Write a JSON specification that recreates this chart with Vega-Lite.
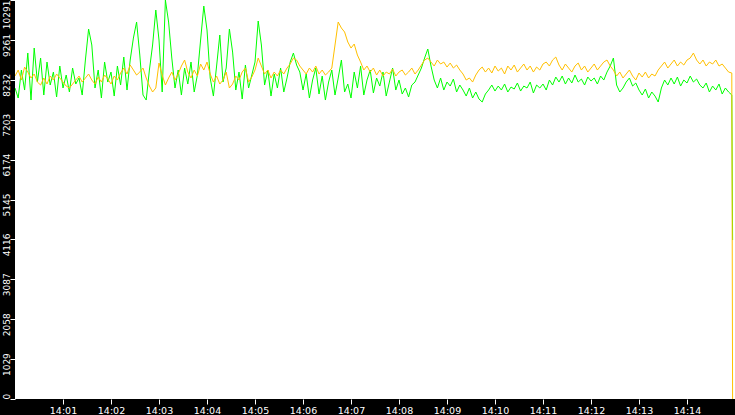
{
  "$schema": "https://vega.github.io/schema/vega-lite/v6.json",
  "width": 720,
  "height": 399,
  "autosize": {"type": "none"},
  "padding": {"left": 15, "top": 0, "right": 0, "bottom": 16},
  "background": "#000000",
  "config": {"view": {"fill": "#ffffff", "stroke": null}},
  "data": {"values": [
    {"s":0,"g":8021,"o":8330},{"s":4,"g":7763,"o":8485},{"s":8,"g":8485,"o":8227},{"s":12,"g":7969,"o":8562},
    {"s":16,"g":8923,"o":8433},{"s":20,"g":7711,"o":8279},{"s":24,"g":9052,"o":8382},{"s":28,"g":8175,"o":8175},
    {"s":32,"g":8794,"o":8098},{"s":36,"g":7840,"o":8279},{"s":40,"g":8691,"o":8124},{"s":44,"g":8098,"o":8330},
    {"s":48,"g":8433,"o":8227},{"s":52,"g":7789,"o":8382},{"s":56,"g":8588,"o":8279},{"s":60,"g":8021,"o":8175},
    {"s":64,"g":8356,"o":8072},{"s":68,"g":7918,"o":8021},{"s":72,"g":8536,"o":8124},{"s":76,"g":8124,"o":8227},
    {"s":80,"g":8279,"o":8330},{"s":84,"g":7840,"o":8175},{"s":88,"g":8743,"o":8279},{"s":92,"g":9542,"o":8382},
    {"s":96,"g":9130,"o":8227},{"s":100,"g":8021,"o":8124},{"s":104,"g":8485,"o":8304},{"s":108,"g":7763,"o":8175},
    {"s":112,"g":8691,"o":8356},{"s":116,"g":8175,"o":8253},{"s":120,"g":8433,"o":8124},{"s":124,"g":7814,"o":8330},
    {"s":128,"g":8588,"o":8227},{"s":132,"g":8098,"o":8408},{"s":136,"g":8820,"o":8536},{"s":140,"g":7969,"o":8382},
    {"s":144,"g":8743,"o":8614},{"s":148,"g":9310,"o":8485},{"s":152,"g":9723,"o":8356},{"s":156,"g":8872,"o":8433},
    {"s":160,"g":7840,"o":8536},{"s":164,"g":7711,"o":8279},{"s":168,"g":8485,"o":8072},{"s":172,"g":9130,"o":7918},
    {"s":176,"g":10032,"o":8021},{"s":180,"g":9259,"o":8665},{"s":184,"g":7918,"o":8356},{"s":188,"g":10290,"o":8098},
    {"s":192,"g":9723,"o":8279},{"s":196,"g":8794,"o":8433},{"s":200,"g":8021,"o":8227},{"s":204,"g":8485,"o":8382},
    {"s":208,"g":7840,"o":8588},{"s":212,"g":8536,"o":8743},{"s":216,"g":8124,"o":8433},{"s":220,"g":8691,"o":8279},
    {"s":224,"g":7918,"o":8485},{"s":228,"g":8356,"o":8330},{"s":232,"g":9259,"o":8640},{"s":236,"g":10135,"o":8485},
    {"s":240,"g":9517,"o":8691},{"s":244,"g":8279,"o":8382},{"s":248,"g":7814,"o":8175},{"s":252,"g":8588,"o":8330},
    {"s":256,"g":9388,"o":8124},{"s":260,"g":8175,"o":8227},{"s":264,"g":8536,"o":8433},{"s":268,"g":9542,"o":8021},
    {"s":272,"g":8949,"o":8124},{"s":276,"g":7969,"o":8330},{"s":280,"g":8433,"o":8227},{"s":284,"g":7737,"o":8433},
    {"s":288,"g":8614,"o":8536},{"s":292,"g":8021,"o":8175},{"s":296,"g":8356,"o":8304},{"s":300,"g":8691,"o":8485},
    {"s":304,"g":9749,"o":8794},{"s":308,"g":9130,"o":8588},{"s":312,"g":8098,"o":8382},{"s":316,"g":8485,"o":8485},
    {"s":320,"g":7814,"o":8279},{"s":324,"g":8382,"o":8433},{"s":328,"g":8021,"o":8330},{"s":332,"g":8536,"o":8485},
    {"s":336,"g":7918,"o":8382},{"s":340,"g":8279,"o":8536},{"s":344,"g":8691,"o":8640},{"s":348,"g":8923,"o":8794},
    {"s":352,"g":8614,"o":8743},{"s":356,"g":8433,"o":8588},{"s":360,"g":7969,"o":8485},{"s":364,"g":8382,"o":8382},
    {"s":368,"g":7763,"o":8536},{"s":372,"g":8227,"o":8433},{"s":376,"g":8536,"o":8588},{"s":380,"g":7866,"o":8382},
    {"s":384,"g":8330,"o":8485},{"s":388,"g":7711,"o":8356},{"s":392,"g":8175,"o":8433},{"s":396,"g":8485,"o":8536},
    {"s":400,"g":7840,"o":9130},{"s":404,"g":8279,"o":9723},{"s":408,"g":8743,"o":9568},{"s":412,"g":7918,"o":9465},
    {"s":416,"g":8124,"o":9207},{"s":420,"g":7763,"o":9052},{"s":424,"g":8433,"o":9155},{"s":428,"g":8021,"o":8872},
    {"s":432,"g":8588,"o":8691},{"s":436,"g":7840,"o":8485},{"s":440,"g":8227,"o":8588},{"s":444,"g":8485,"o":8433},
    {"s":448,"g":7892,"o":8536},{"s":452,"g":8279,"o":8356},{"s":456,"g":8072,"o":8485},{"s":460,"g":8433,"o":8330},
    {"s":464,"g":7814,"o":8433},{"s":468,"g":8175,"o":8382},{"s":472,"g":8536,"o":8511},{"s":476,"g":7969,"o":8330},
    {"s":480,"g":8227,"o":8433},{"s":484,"g":7866,"o":8485},{"s":488,"g":8021,"o":8356},{"s":492,"g":7789,"o":8433},
    {"s":496,"g":8098,"o":8536},{"s":500,"g":8175,"o":8382},{"s":504,"g":8356,"o":8485},{"s":508,"g":8536,"o":8614},
    {"s":512,"g":8794,"o":8743},{"s":516,"g":9027,"o":8794},{"s":520,"g":8588,"o":8691},{"s":524,"g":8227,"o":8588},
    {"s":528,"g":8021,"o":8743},{"s":532,"g":8279,"o":8640},{"s":536,"g":7969,"o":8691},{"s":540,"g":8175,"o":8562},
    {"s":544,"g":8072,"o":8665},{"s":548,"g":8253,"o":8536},{"s":552,"g":7918,"o":8614},{"s":556,"g":8098,"o":8485},
    {"s":560,"g":7969,"o":8382},{"s":564,"g":7814,"o":8227},{"s":568,"g":8021,"o":8279},{"s":572,"g":7763,"o":8175},
    {"s":576,"g":7918,"o":8356},{"s":580,"g":7737,"o":8485},{"s":584,"g":7660,"o":8562},{"s":588,"g":7866,"o":8433},
    {"s":592,"g":7969,"o":8536},{"s":596,"g":8098,"o":8408},{"s":600,"g":7943,"o":8588},{"s":604,"g":8072,"o":8459},
    {"s":608,"g":7969,"o":8536},{"s":612,"g":8124,"o":8382},{"s":616,"g":7918,"o":8588},{"s":620,"g":8046,"o":8485},
    {"s":624,"g":7995,"o":8614},{"s":628,"g":8150,"o":8433},{"s":632,"g":7943,"o":8536},{"s":636,"g":8072,"o":8640},
    {"s":640,"g":8021,"o":8485},{"s":644,"g":8175,"o":8588},{"s":648,"g":7892,"o":8433},{"s":652,"g":8098,"o":8562},
    {"s":656,"g":8021,"o":8485},{"s":660,"g":8124,"o":8640},{"s":664,"g":7969,"o":8691},{"s":668,"g":8227,"o":8588},
    {"s":672,"g":8098,"o":8743},{"s":676,"g":8304,"o":8820},{"s":680,"g":8175,"o":8614},{"s":684,"g":8330,"o":8485},
    {"s":688,"g":8124,"o":8640},{"s":692,"g":8279,"o":8536},{"s":696,"g":8150,"o":8433},{"s":700,"g":8356,"o":8588},
    {"s":704,"g":8175,"o":8665},{"s":708,"g":8253,"o":8485},{"s":712,"g":8098,"o":8588},{"s":716,"g":8304,"o":8433},
    {"s":720,"g":8201,"o":8536},{"s":724,"g":8279,"o":8640},{"s":728,"g":8124,"o":8485},{"s":732,"g":8330,"o":8588},
    {"s":736,"g":8227,"o":8691},{"s":740,"g":8433,"o":8743},{"s":744,"g":8588,"o":8588},{"s":748,"g":8794,"o":8485},
    {"s":752,"g":8098,"o":8330},{"s":756,"g":7918,"o":8433},{"s":760,"g":8021,"o":8279},{"s":764,"g":8175,"o":8382},
    {"s":768,"g":8279,"o":8485},{"s":772,"g":8072,"o":8330},{"s":776,"g":8150,"o":8227},{"s":780,"g":7969,"o":8408},
    {"s":784,"g":7840,"o":8304},{"s":788,"g":7995,"o":8433},{"s":792,"g":7763,"o":8279},{"s":796,"g":7918,"o":8382},
    {"s":800,"g":7814,"o":8330},{"s":804,"g":7660,"o":8485},{"s":808,"g":8021,"o":8588},{"s":812,"g":8227,"o":8691},
    {"s":816,"g":8098,"o":8536},{"s":820,"g":8279,"o":8640},{"s":824,"g":8124,"o":8743},{"s":828,"g":8304,"o":8588},
    {"s":832,"g":8072,"o":8691},{"s":836,"g":8227,"o":8614},{"s":840,"g":8150,"o":8743},{"s":844,"g":8330,"o":8794},
    {"s":848,"g":8175,"o":8923},{"s":852,"g":8253,"o":8743},{"s":856,"g":8098,"o":8640},{"s":860,"g":8021,"o":8743},
    {"s":864,"g":8150,"o":8588},{"s":868,"g":7918,"o":8691},{"s":872,"g":8072,"o":8640},{"s":876,"g":7969,"o":8743},
    {"s":880,"g":8124,"o":8588},{"s":884,"g":7866,"o":8640},{"s":888,"g":8021,"o":8536},{"s":892,"g":7918,"o":8433},
    {"s":896,"g":7840,"o":8408},{"s":897,"g":4100,"o":0}
  ]},
  "transform": [{"fold": ["g", "o"], "as": ["series", "value"]}],
  "mark": {"type": "line", "interpolate": "linear", "strokeWidth": 1, "clip": true},
  "encoding": {
    "x": {
      "field": "s",
      "type": "quantitative",
      "scale": {"domain": [0, 900], "nice": false, "zero": false},
      "axis": {
        "values": [60, 120, 180, 240, 300, 360, 420, 480, 540, 600, 660, 720, 780, 840],
        "labelExpr": "'14:' + (datum.value < 600 ? '0' : '') + (datum.value / 60)",
        "title": null,
        "domain": false,
        "grid": false,
        "tickColor": "#ffffff",
        "tickSize": 5,
        "labelColor": "#ffffff",
        "labelFont": "DejaVu Sans",
        "labelFontSize": 9.5,
        "labelPadding": 1,
        "labelFlush": false,
        "labelOverlap": false
      }
    },
    "y": {
      "field": "value",
      "type": "quantitative",
      "scale": {"domain": [0, 10291], "nice": false, "zero": true},
      "axis": {
        "values": [0, 1029, 2058, 3087, 4116, 5145, 6174, 7203, 8232, 9261, 10291],
        "format": "d",
        "title": null,
        "domain": false,
        "grid": false,
        "tickColor": "#ffffff",
        "tickSize": 5,
        "labelColor": "#ffffff",
        "labelFont": "DejaVu Sans",
        "labelFontSize": 9,
        "labelAngle": 270,
        "labelAlign": {"condition": [{"test": "datum.value > 10000", "value": "right"}, {"test": "datum.value < 1", "value": "left"}], "value": "center"},
        "labelOffset": {"condition": {"test": "datum.value > 10000 || datum.value < 1", "value": 0}, "value": 5},
        "labelBaseline": "alphabetic",
        "labelPadding": 1,
        "labelFlush": false,
        "labelOverlap": false,
        "labelBound": false
      }
    },
    "color": {
      "field": "series",
      "type": "nominal",
      "scale": {"domain": ["g", "o"], "range": ["#00ff00", "#ffc000"]},
      "legend": null
    }
  }
}
